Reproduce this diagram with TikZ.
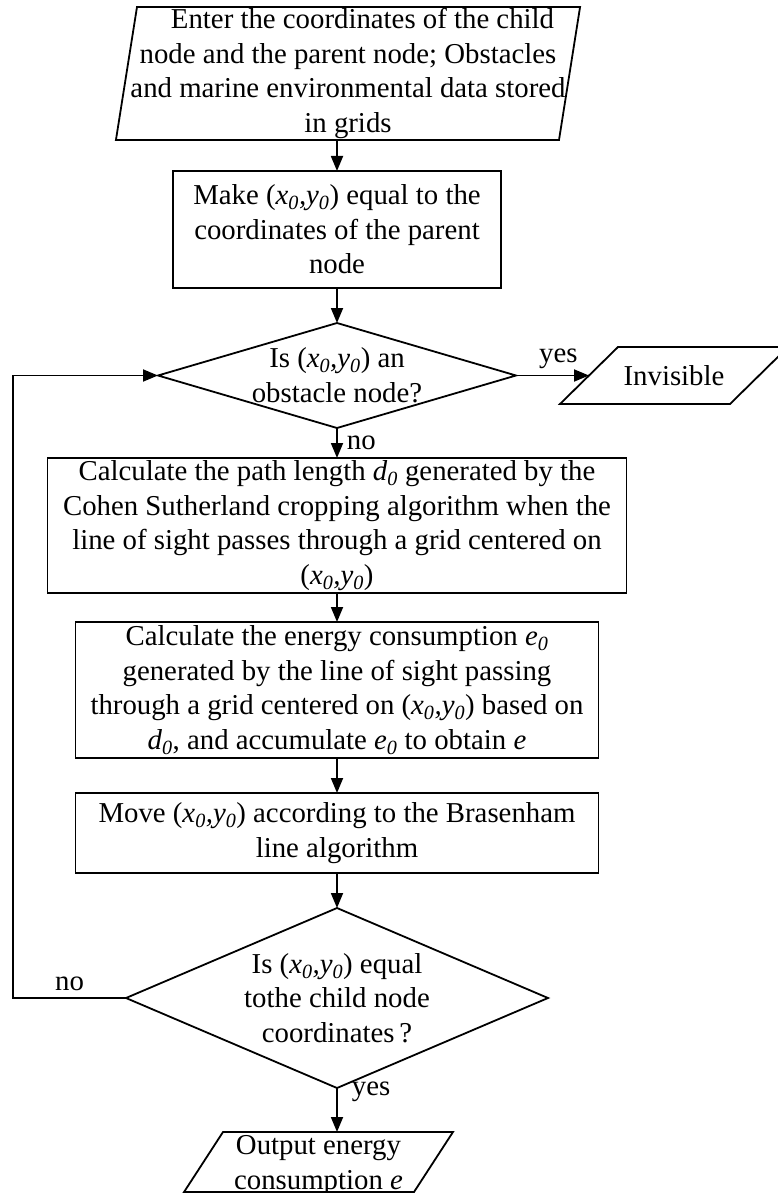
\documentclass[tikz,border=0pt]{standalone}
\usepackage{fontspec}
\setmainfont{Liberation Serif}
\usetikzlibrary{positioning, arrows.meta, shapes.geometric}
\newcommand{\xoyo}{(\textit{x\textsubscript{0},y\textsubscript{0}})}
\newcommand{\vz}[1]{\textit{#1\textsubscript{0}}}
\tikzset{
  blk/.style={draw, align=center, inner sep=1pt, outer sep=0pt},
  dec/.style={draw, diamond, inner sep=0pt, outer sep=0pt},
  io/.style 2 args={draw, trapezium, trapezium left angle=#1, trapezium right angle=#2, outer sep=0pt},
  txt/.style={align=center, inner sep=0pt},
  lbl/.style={inner sep=2pt},
  fl/.style={-{Triangle[length=15pt, width=12pt]}},
}
\begin{document}
\begin{tikzpicture}[x=1pt, y=-1pt, line width=1.8pt,
  every node/.style={font=\fontsize{28.8}{34.6}\selectfont}]
  \useasboundingbox (0,0) rectangle (777,1193);
  \node[blk, minimum width=328pt, minimum height=117pt] (mk) at (337,229.5)
    {Make \xoyo{} equal to the\\coordinates of the parent\\node};
  \node[io={81}{99}, inner xsep=211pt, inner ysep=66.5pt, above=31pt of mk, xshift=11pt,
    label={[txt]center:{\hspace*{29pt}Enter the coordinates of the child\\node and the parent node; Obstacles\\and marine environmental data stored\\in grids}}] (in) {};
  \node[dec, minimum width=358pt, minimum height=105pt, below=35pt of mk,
    label={[txt]center:{Is \xoyo{} an\\obstacle node?}}] (d1) {};
  \node[io={44.5}{135.5}, inner xsep=56pt, inner ysep=28.5pt, right=73pt of d1,
    label={[txt]center:Invisible}] (inv) {};
  \node[blk, minimum width=579pt, minimum height=135pt, below=30pt of d1] (len)
    {Calculate the path length \vz{d} generated by the\\Cohen Sutherland cropping algorithm when the\\line of sight passes through a grid centered on\\\xoyo};
  \node[blk, minimum width=523pt, minimum height=136pt, below=29pt of len] (en)
    {Calculate the energy consumption \vz{e}\\generated by the line of sight passing\\through a grid centered on \xoyo{} based on\\\vz{d}, and accumulate \vz{e} to obtain \textit{e}};
  \node[blk, minimum width=523pt, minimum height=80pt, below=35pt of en] (mv)
    {Move \xoyo{} according to the Brasenham\\line algorithm};
  \node[dec, minimum width=422pt, minimum height=180pt, below=35pt of mv,
    label={[txt]center:{Is \xoyo{} equal\\tothe child node\\coordinates\,?}}] (d2) {};
  \node[io={57}{123}, inner xsep=95.5pt, inner ysep=30pt, below=44pt of d2, xshift=-18.5pt,
    label={[txt, yshift=-3.5pt]center:{Output energy\\consumption \textit{e}}}] (out) {};

  \draw[fl] (in.south -| mk.north) -- (mk.north);
  \draw[fl] (mk.south) -- (d1.north);
  \draw[fl] (d1.east) -- node[lbl, above=4pt, pos=0.58] {yes} (inv.west);
  \draw[fl] (d1.south) -- node[lbl, right, pos=0.5, xshift=7pt] {no} (len.north);
  \draw[fl] (len.south) -- (en.north);
  \draw[fl] (en.south) -- (mv.north);
  \draw[fl] (mv.south) -- (d2.north);
  \draw[fl] (d2.south) -- node[lbl, right, pos=0.08, xshift=12pt] {yes} (d2.south |- out.north);
  \draw[fl] (d2.west) -- node[lbl, above=4pt] {no} ++(-113,0) |- (d1.west);
\end{tikzpicture}
\end{document}
